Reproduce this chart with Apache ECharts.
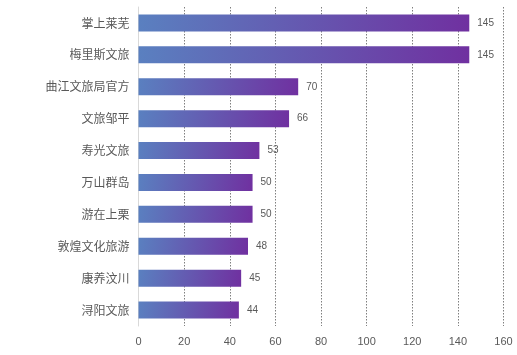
<!DOCTYPE html>
<html>
<head>
<meta charset="utf-8">
<script src="https://cdn.jsdelivr.net/npm/echarts@6/dist/echarts.min.js"></script>
<style>html,body{margin:0;padding:0;background:#fff;}#c{width:517px;height:355px;}</style>
</head>
<body>
<div id="c"></div>
<script>
const categories = ['掌上莱芜','梅里斯文旅','曲江文旅局官方','文旅邹平','寿光文旅','万山群岛','游在上栗','敦煌文化旅游','康养汶川','浔阳文旅'];
const values = [145,145,70,66,53,50,50,48,45,44];
const xTicks = [0,20,40,60,80,100,120,140,160];

const chart = echarts.init(document.getElementById('c'), null, {renderer:'canvas'});
chart.setOption({
  animation: false,
  grid: {left: 138.5, right: 13.5, top: 7, bottom: 29, containLabel: false},
  xAxis: {
    type: 'value', min: xTicks[0], max: xTicks[xTicks.length-1], interval: 20,
    axisLine: {show: false}, axisTick: {show: false},
    axisLabel: {color: '#595959', fontSize: 11, fontFamily: 'Liberation Sans, Arial', margin: 10},
    splitLine: {show: true, lineStyle: {color: '#7f7f7f', type: [1.5, 1.5], width: 1}}
  },
  yAxis: {
    type: 'category', data: categories, inverse: true,
    axisLine: {show: true, lineStyle: {color: '#d9d9d9', width: 1}},
    axisTick: {show: false},
    axisLabel: {color: '#595959', fontSize: 12, fontFamily: 'Noto Sans CJK SC', margin: 9}
  },
  series: [{
    type: 'bar', data: values, barWidth: 17,
    itemStyle: {color: new echarts.graphic.LinearGradient(0,0,1,1,[{offset:0,color:'#5A80C0'},{offset:1,color:'#7030A0'}])},
    label: {show: true, position: 'right', distance: 8, color: '#595959', fontSize: 10, fontFamily: 'Liberation Sans, Arial'}
  }]
});
</script>
</body>
</html>
